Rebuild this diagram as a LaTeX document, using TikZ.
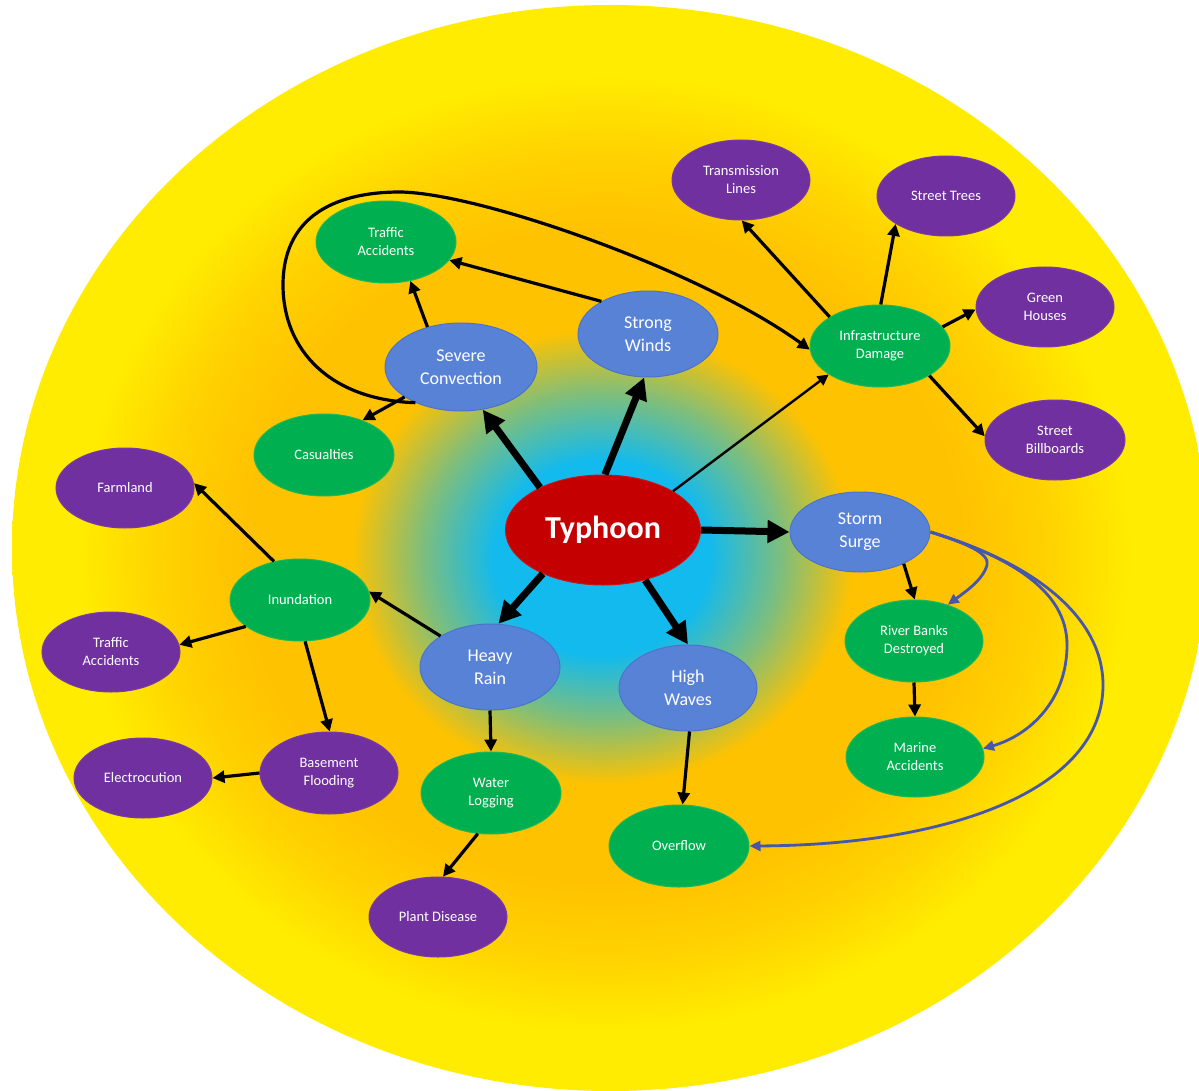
\documentclass[tikz,border=0pt]{standalone}
\usepackage{fontspec}
\setmainfont{Carlito}
\usetikzlibrary{shapes.geometric,arrows.meta}
\definecolor{bluec}{RGB}{88,130,214}
\definecolor{blueb}{RGB}{75,115,205}
\definecolor{greenc}{RGB}{0,176,80}
\definecolor{greenb}{RGB}{30,185,85}
\definecolor{purplec}{RGB}{112,48,160}
\definecolor{purpleb}{RGB}{122,58,165}
\definecolor{redc}{RGB}{196,0,0}
\definecolor{redb}{RGB}{205,20,20}
\definecolor{curvec}{RGB}{70,86,172}
\definecolor{cyanc}{RGB}{18,186,238}
\definecolor{midc}{RGB}{125,190,125}
\definecolor{orangec}{RGB}{255,194,0}
\definecolor{orangey}{RGB}{255,210,0}
\definecolor{yellowc}{RGB}{255,236,0}
\pgfdeclareradialshading{bgshade}{\pgfpoint{-0.4bp}{-0.5bp}}{color(0bp)=(cyanc); color(4.5bp)=(cyanc); color(7.5bp)=(midc); color(10.5bp)=(orangec); color(15bp)=(orangec); color(18.5bp)=(orangey); color(22bp)=(yellowc); color(25bp)=(yellowc); color(50bp)=(yellowc)}
\begin{document}
\begin{tikzpicture}[x=1pt,y=-1pt,
  basenode/.style={ellipse, inner sep=0pt, text=white, align=center, line width=1pt},
  bluenode/.style={basenode, fill=bluec, draw=blueb, minimum width=140pt, minimum height=86pt, font=\fontsize{18}{23}\selectfont},
  greennode/.style={basenode, fill=greenc, draw=greenb, minimum width=140pt, minimum height=82pt, font=\fontsize{14.5}{18}\selectfont},
  purplenode/.style={basenode, fill=purplec, draw=purpleb, minimum width=138pt, minimum height=80pt, font=\fontsize{14.5}{18}\selectfont},
  rednode/.style={basenode, fill=redc, draw=redb, minimum width=195pt, minimum height=110pt, font=\fontsize{32}{38}\selectfont\bfseries},
  bigarrow/.style={draw=black, line width=7pt, -{Triangle[length=22pt,width=22pt]}},
  medarrow/.style={draw=black, line width=3.2pt, -{Triangle[length=12pt,width=12pt]}},
  thinarrow/.style={draw=black, line width=2.4pt, -{Triangle[length=11pt,width=11pt]}},
  curvearrow/.style={draw=curvec, line width=2.8pt, -{Triangle[length=11pt,width=10pt]}}
]
\useasboundingbox (0,0) rectangle (1199,1091);
\fill[white] (0,0) rectangle (1199,1091);
\shade[shading=bgshade] (610,548) ellipse [x radius=598pt, y radius=543pt];

% nodes
\node[rednode] (ty) at (603,530) {Typhoon};
\node[bluenode] (sw) at (648,334) {Strong\\Winds};
\node[bluenode, minimum width=152pt, minimum height=88pt] (sc) at (461,367) {Severe\\Convection};
\node[bluenode, minimum height=80pt] (ss) at (860,532) {Storm\\Surge};
\node[bluenode] (hr) at (490,667) {Heavy\\Rain};
\node[bluenode, minimum width=138pt] (hw) at (688,688) {High\\Waves};

\node[greennode] (ta1) at (386,242) {Traffic\\Accidents};
\node[greennode] (cas) at (324,455) {Casualties};
\node[greennode] (inf) at (880,346) {Infrastructure\\Damage};
\node[greennode, minimum width=138pt] (rb) at (914,641) {River Banks\\Destroyed};
\node[greennode, minimum width=138pt, minimum height=80pt] (ma) at (915,757) {Marine\\Accidents};
\node[greennode] (inu) at (300,600) {Inundation};
\node[greennode] (wl) at (491,793) {Water\\Logging};
\node[greennode] (of) at (679,846) {Overflow};

\node[purplenode] (tl) at (741,180) {Transmission\\Lines};
\node[purplenode] (st) at (946,196) {Street Trees};
\node[purplenode] (gh) at (1045,307) {Green\\Houses};
\node[purplenode, minimum width=140pt] (sb) at (1055,440) {Street\\Billboards};
\node[purplenode] (fl) at (125,488) {Farmland};
\node[purplenode] (ta2) at (111,652) {Traffic\\Accidents};
\node[purplenode, minimum height=82pt] (bf) at (329,773) {Basement\\Flooding};
\node[purplenode] (el) at (143,778) {Electrocution};
\node[purplenode] (pd) at (438,917) {Plant Disease};

% thick arrows from typhoon
\draw[bigarrow] (ty.88) -- (sw.-95);
\draw[bigarrow] (ty.146) -- (sc.-63);
\draw[bigarrow] (ty.east) -- (ss.west);
\draw[bigarrow] (ty.-144) -- (hr.79);
\draw[bigarrow] (ty.-50) -- (hw.90);
\draw[thinarrow] (ty.29) -- (inf.-151);

% medium arrows
\draw[medarrow] (sw.145) -- (ta1.-16);
\draw[medarrow] (sc.130) -- (ta1.-58);
\draw[medarrow] (sc.208) -- (cas.42);
\draw[medarrow] (sc.218) .. controls (330,400) and (283,350) .. (283,285)
   .. controls (283,220) and (330,192) .. (400,192)
   .. controls (480,193) and (700,270) .. (inf.183);
\draw[medarrow] (inf.150) -- (tl.-89);
\draw[medarrow] (inf.89) -- (st.209);
\draw[medarrow] (inf.17) -- (gh.182);
\draw[medarrow] (inf.-31) -- (sb.177);
\draw[medarrow] (ss.-36) -- (rb.89);
\draw[medarrow] (rb.south) -- (ma.north);
\draw[medarrow] (hw.-88) -- (of.85);
\draw[medarrow] (hr.south) -- (wl.north);
\draw[medarrow] (hr.148) -- (inu.7);
\draw[medarrow] (wl.-108) -- (pd.83);
\draw[medarrow] (inu.124) -- (fl.4);
\draw[medarrow] (inu.206) -- (ta2.6);
\draw[medarrow] (inu.-83) -- (bf.89);
\draw[medarrow] (bf.west) -- (el.east);

% blue curves from storm surge
\draw[curvearrow] (ss.east) .. controls (965,543) and (990,553) .. (987,565)
   .. controls (983,580) and (965,592) .. (rb.47);
\draw[curvearrow] (ss.east) .. controls (1010,557) and (1067,590) .. (1067,645)
   .. controls (1067,700) and (1030,735) .. (ma.7);
\draw[curvearrow] (ss.east) .. controls (1040,565) and (1103,620) .. (1103,685)
   .. controls (1103,790) and (950,845) .. (of.east);
\end{tikzpicture}
\end{document}
